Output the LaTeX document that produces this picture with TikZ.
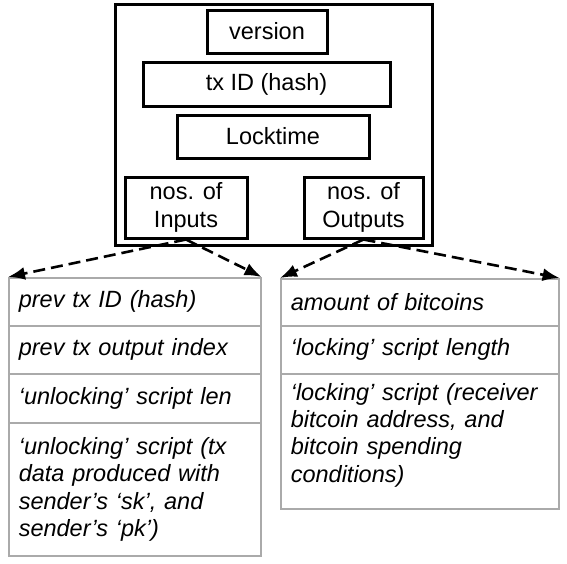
\documentclass[tikz,border=0pt]{standalone}
\usepackage{fontspec}
\setmainfont{Liberation Sans}
\usetikzlibrary{arrows.meta}
\definecolor{cellgray}{HTML}{AAAAAA}
\tikzset{
  fieldbox/.style={draw=black, line width=3pt, inner sep=0pt, align=center,
    font=\fontsize{23.5}{28}\selectfont},
  cellbox/.style={draw=cellgray, line width=1.6pt, anchor=north west, inner xsep=10pt, inner ysep=0pt,
    align=left, font=\fontsize{23.5}{27.3}\selectfont\itshape},
  dasharrow/.style={line width=2.6pt, dash pattern=on 12pt off 6pt, -{Latex[length=17pt,width=13pt]}}
}
\begin{document}
\begin{tikzpicture}[x=1pt,y=-1pt]
\useasboundingbox (0,0) rectangle (567,563);
% top structure
\node[fieldbox, minimum width=317pt, minimum height=241pt] (outer) at (273.5,124.5) {};
\node[fieldbox, minimum width=120pt, minimum height=43pt] (version) at (267,31.5) {version};
\node[fieldbox, minimum width=247pt, minimum height=44pt] (txid) at (266.5,84.5) {tx ID (hash)};
\node[fieldbox, minimum width=192pt, minimum height=43pt] (lock) at (273,136.5) {Locktime};
\node[fieldbox, minimum width=122pt, minimum height=61pt] (in) at (186,207.5) {nos. of\\Inputs};
\node[fieldbox, minimum width=119pt, minimum height=61pt] (out) at (363.5,207.5) {nos. of\\Outputs};
% inputs table
\node[cellbox, text width=232pt, minimum height=48pt] (c1) at (8,277) {prev tx ID (hash)};
\node[cellbox, text width=232pt, minimum height=48pt] (c2) at (8,325) {prev tx output index};
\node[cellbox, text width=232pt, minimum height=49pt] (c3) at (8,373) {‘unlocking’ script len};
\node[cellbox, text width=232pt, minimum height=133pt] (c4) at (8,422) {‘unlocking’ script (tx\\data produced with\\sender’s ‘sk’, and\\sender’s ‘pk’)};
% outputs table
\node[cellbox, text width=258pt, minimum height=47pt] (d1) at (280,278) {amount of bitcoins};
\node[cellbox, text width=258pt, minimum height=48pt] (d2) at (280,325) {‘locking’ script length};
\node[cellbox, text width=258pt, minimum height=135pt] (d3) at (280,373) {‘locking’ script (receiver\\bitcoin address, and\\bitcoin spending\\conditions)\\[-10pt]\mbox{}};
% arrows
\draw[dasharrow] (in.south) -- (c1.north west);
\draw[dasharrow] (in.south) -- (c1.north east);
\draw[dasharrow] (out.south) -- (d1.north west);
\draw[dasharrow] (out.south) -- (d1.north east);
\end{tikzpicture}
\end{document}
